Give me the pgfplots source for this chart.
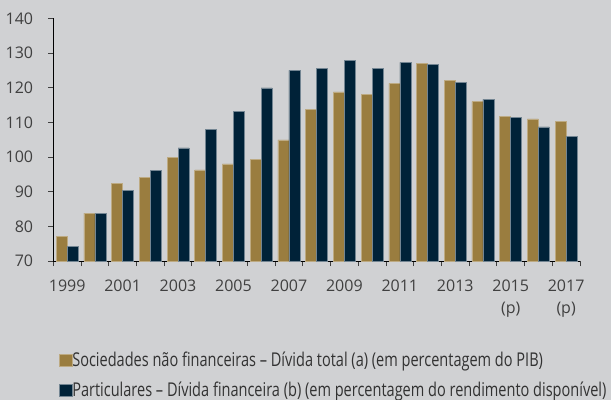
\documentclass[border=0pt]{standalone}
\usepackage{fontspec}
\setmainfont{Open Sans}
\newfontfamily\legfont{Open Sans}[FakeStretch=0.765]
\newfontfamily\tickfont{Open Sans}
\usepackage{pgfplots}
\usepackage{pgfplotstable}
\pgfplotsset{compat=1.18}
\definecolor{bgc}{RGB}{208,209,211}
\definecolor{gold}{RGB}{154,125,63}
\definecolor{navy}{RGB}{0,34,56}
\definecolor{ticktxt}{RGB}{64,64,64}
\definecolor{legtxt}{RGB}{50,50,50}

\pgfplotstableread{
x a b
0 77.2 74.1
1 83.8 83.7
2 92.4 90.4
3 94.1 96.2
4 99.9 102.6
5 96.3 108.0
6 98.0 113.1
7 99.4 119.9
8 104.9 125.0
9 113.8 125.6
10 118.8 127.9
11 118.0 125.6
12 121.2 127.3
13 127.0 126.6
14 122.2 121.5
15 116.0 116.6
16 111.7 111.4
17 111.0 108.7
18 110.3 106.0
}\debt

\begin{document}
\begin{tikzpicture}
\path[use as bounding box, fill=bgc] (-53.3bp,-139bp) rectangle (557.7bp,261bp);
\begin{axis}[
  at={(0,0)}, anchor=south west,
  scale only axis, width=526.7bp, height=242.7bp,
  xmin=-0.5, xmax=18.5, ymin=70, ymax=140,
  enlarge x limits=false,
  ybar=0pt, bar width=11bp,
  axis x line*=bottom, axis y line*=left,
  axis line style={black, line width=0.9bp},
  tick align=outside, major tick length=5bp,
  tick style={black!75, line width=0.9bp},
  /pgf/number format/assume math mode=true,
  xtick={-0.5,0.5,...,18.5}, xticklabels={},
  extra x ticks={0,2,...,18},
  extra x tick labels={1999,2001,2003,2005,2007,2009,2011,2013,{2015\\(p)},{2017\\(p)}},
  extra x tick style={major tick length=0pt, tick style={draw=none}},
  xticklabel style={font=\tickfont\fontsize{16bp}{22bp}\selectfont, text=ticktxt, align=center, anchor=north, inner sep=0pt, yshift=-19bp},
  ytick={70,80,...,140},
  yticklabel style={font=\tickfont\fontsize{16bp}{20bp}\selectfont, text=ticktxt, anchor=east, inner sep=0pt, xshift=-15bp},
  legend style={at={(rel axis cs:0,0)}, anchor=north west, xshift=6bp, yshift=-93bp,
    draw=none, fill=none, inner sep=0pt, outer sep=0pt,
    font=\legfont\fontsize{19bp}{24bp}\selectfont, text=legtxt,
    row sep=16.9bp,
    nodes={inner sep=0pt, text height=12.4bp, text depth=0bp},
    /tikz/every even column/.append style={column sep=4.3bp}},
  legend cell align=left,
  legend image code/.code={\fill[#1] (0bp,-6.2bp) rectangle (12.4bp,6.2bp);},
]
\addplot[fill=gold, draw=gold!65!white, line width=0.6bp] table[x=x, y=a] {\debt};
\addplot[fill=navy, draw=navy!55!white, line width=0.6bp] table[x=x, y=b] {\debt};
\legend{Sociedades não financeiras – Dívida total (a) (em percentagem do PIB),
        Particulares – Dívida financeira (b) (em percentagem do rendimento disponível)}
\end{axis}
\end{tikzpicture}
\end{document}
